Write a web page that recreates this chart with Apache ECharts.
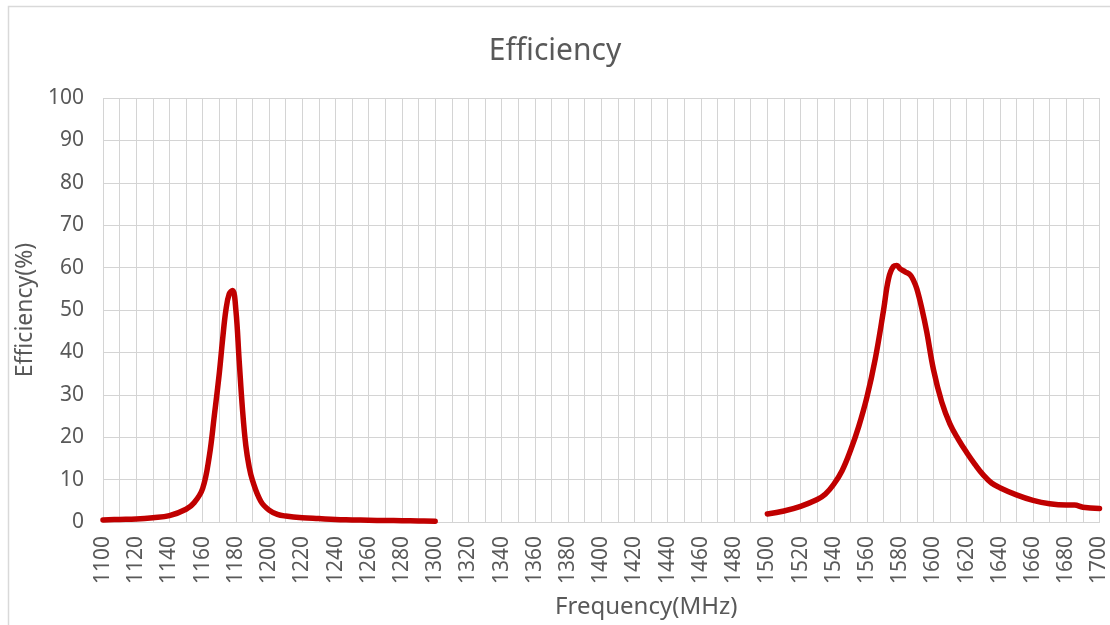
<!DOCTYPE html>
<html>
<head>
<meta charset="utf-8">
<script src="https://cdn.jsdelivr.net/npm/echarts@6/dist/echarts.min.js"></script>
<style>
    html, body { margin: 0; padding: 0; background: #fff; }
    #chart { width: 1110px; height: 625px; }
</style>
</head>
<body>
<div id="chart"></div>
<script>
    // band 1 (L5)
    var freqLow = [1100, 1110, 1120, 1130, 1140, 1150, 1155, 1160, 1164, 1167, 1170, 1172, 1174, 1176, 1178,
        1180, 1182, 1184, 1186, 1188, 1190, 1195, 1200, 1205, 1210, 1220, 1230, 1240, 1250, 1260, 1270, 1280, 1290, 1300];
    var effLow = [0.5, 0.6, 0.7, 1.0, 1.5, 3.0, 4.6, 7.9, 15.5, 25, 35, 43, 50, 53.8, 54.6,
        50, 38, 26.5, 18, 13, 9.8, 4.9, 2.8, 1.8, 1.4, 1.0, 0.8, 0.6, 0.5, 0.4, 0.35, 0.3, 0.25, 0.2];

    // band 2 (L1)
    var freqHigh = [1500, 1510, 1520, 1530, 1535, 1540, 1545, 1550, 1555, 1560, 1565, 1570, 1573, 1576, 1578,
        1580, 1583, 1586, 1588, 1590, 1593, 1596, 1600, 1605, 1610, 1615, 1620, 1625, 1630, 1635, 1640,
        1650, 1660, 1670, 1680, 1685, 1690, 1700];
    var effHigh = [1.9, 2.6, 3.7, 5.3, 6.6, 8.9, 12.1, 16.8, 22.5, 29.5, 38.5, 50, 57.4, 60.3, 60.5,
        59.7, 59.0, 58.3, 57, 55, 50.4, 44.8, 36, 28.3, 23.1, 19.5, 16.4, 13.6, 11.1, 9.2, 8.1,
        6.4, 5.1, 4.3, 4.0, 4.0, 3.5, 3.2];

    function pairs(xs, ys) {
        return xs.map(function (x, i) { return [x, ys[i]]; });
    }

    var chart = echarts.init(document.getElementById("chart"));
    var lineStyle = { color: "#c00000", width: 5.5, cap: "round", join: "round" };
    var gridColor = "#d4d4d4";
    var option = {
        backgroundColor: "#fff",
        animation: false,
        graphic: [{
            type: "rect",
            left: 6, top: 4,
            shape: { width: 1120, height: 640 },
            style: { fill: "none", stroke: "#d9d9d9", lineWidth: 1.5 },
            z: -1
        }],
        title: {
            text: "Efficiency",
            left: "center",
            top: 31,
            textStyle: { color: "#595959", fontSize: 30, fontWeight: "normal", fontFamily: "Noto Sans" }
        },
        grid: { left: 103, right: 10, top: 98, bottom: 103 },
        xAxis: {
            type: "value",
            min: 1100,
            max: 1700,
            interval: 20,
            name: "Frequency(MHz)",
            nameLocation: "middle",
            nameGap: 73,
            nameTextStyle: { color: "#595959", fontSize: 24, fontFamily: "Noto Sans", padding: [0, 0, 0, 90] },
            axisLine: { show: true, lineStyle: { color: gridColor, width: 1 } },
            axisTick: { show: false },
            axisLabel: {
                rotate: 90, margin: 14, color: "#595959", fontSize: 21, fontFamily: "Noto Sans",
                formatter: function (v) { return String(v); }
            },
            splitLine: { show: true, lineStyle: { color: gridColor, width: 1 } },
            minorTick: { show: false, splitNumber: 2 },
            minorSplitLine: { show: true, lineStyle: { color: gridColor, width: 1 } }
        },
        yAxis: {
            type: "value",
            min: 0,
            max: 100,
            interval: 10,
            name: "Efficiency(%)",
            nameLocation: "middle",
            nameGap: 60,
            nameTextStyle: { color: "#595959", fontSize: 23, fontFamily: "Noto Sans" },
            axisLine: { show: false },
            axisTick: { show: false },
            axisLabel: { margin: 19, color: "#595959", fontSize: 21, fontFamily: "Noto Sans" },
            splitLine: { show: true, lineStyle: { color: gridColor, width: 1 } }
        },
        series: [{
            name: "Efficiency",
            type: "line",
            data: pairs(freqLow, effLow),
            smooth: 0.4,
            showSymbol: false,
            symbol: "none",
            lineStyle: lineStyle
        }, {
            name: "Efficiency",
            type: "line",
            data: pairs(freqHigh, effHigh),
            smooth: 0.4,
            showSymbol: false,
            symbol: "none",
            lineStyle: lineStyle
        }]
    };
    chart.setOption(option);
</script>
</body>
</html>
